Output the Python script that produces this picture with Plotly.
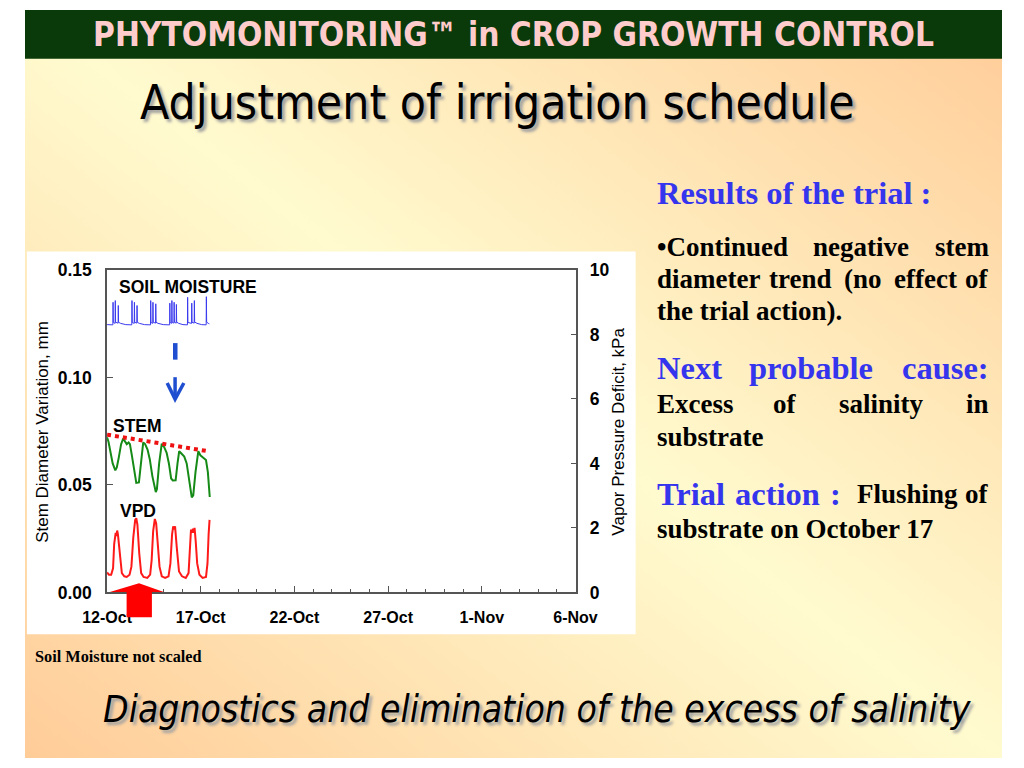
import base64
import pandas as pd
import plotly.graph_objects as go

W, H = 1024, 768

# ---------------- data ----------------
BASE_DATE = "2003-10-12"
X_START, X_END = "2003-10-12", "2003-11-06"

# soil moisture (not scaled, plotted on left axis), day offset from 12-Oct
sm_day = [0.00, 0.31, 0.32, 0.335, 0.43, 0.44, 0.455, 0.59, 0.60, 0.615, 0.72, 1.00,
          1.32, 1.33, 1.345, 1.45, 1.46, 1.475, 1.59, 1.60, 1.615, 1.72, 2.00,
          2.32, 2.33, 2.345, 2.44, 2.45, 2.465, 2.59, 2.60, 2.615, 2.72, 3.00,
          3.34, 3.35, 3.365, 3.45, 3.46, 3.475, 3.57, 3.58, 3.595, 3.69, 3.70, 3.715, 3.82, 4.05,
          4.29, 4.30, 4.315, 4.51, 4.52, 4.535, 4.65, 4.66, 4.675, 4.80, 5.05,
          5.29, 5.30, 5.315, 5.40, 5.46]
sm_val = [0.1246, 0.1245, 0.1350, 0.1256, 0.1252, 0.1358, 0.1257, 0.1253, 0.1335, 0.1257, 0.1252, 0.1246,
          0.1245, 0.1358, 0.1256, 0.1252, 0.1350, 0.1257, 0.1253, 0.1335, 0.1257, 0.1252, 0.1246,
          0.1245, 0.1358, 0.1256, 0.1252, 0.1350, 0.1257, 0.1253, 0.1343, 0.1257, 0.1252, 0.1246,
          0.1245, 0.1346, 0.1256, 0.1252, 0.1358, 0.1257, 0.1253, 0.1350, 0.1257, 0.1253, 0.1340, 0.1258, 0.1252, 0.1246,
          0.1245, 0.1373, 0.1256, 0.1252, 0.1346, 0.1257, 0.1253, 0.1358, 0.1258, 0.1252, 0.1246,
          0.1245, 0.1376, 0.1258, 0.1252, 0.1250]

# stem diameter variation, mm
stem_day = [0.00, 0.08, 0.20, 0.30, 0.44, 0.52, 0.62, 0.75, 0.86, 0.98, 1.05, 1.15, 1.22,
            1.32, 1.45, 1.56, 1.70, 1.80, 1.93, 2.03, 2.16, 2.28, 2.42, 2.60, 2.66, 2.78,
            2.92, 3.05, 3.18, 3.30, 3.42, 3.51, 3.66, 3.76, 3.85, 3.98, 4.12, 4.25, 4.38,
            4.52, 4.60, 4.72, 4.87, 4.98, 5.12, 5.28, 5.38, 5.48]
stem_val = [0.0722, 0.0700, 0.0645, 0.0600, 0.0568, 0.0582, 0.0625, 0.0690, 0.0716, 0.0700, 0.0690, 0.0698, 0.0690,
            0.0640, 0.0560, 0.0510, 0.0512, 0.0600, 0.0698, 0.0690, 0.0665, 0.0620, 0.0540, 0.0467, 0.0480, 0.0600,
            0.0692, 0.0676, 0.0650, 0.0600, 0.0530, 0.0521, 0.0522, 0.0600, 0.0657, 0.0645, 0.0632, 0.0600, 0.0520,
            0.0442, 0.0452, 0.0560, 0.0657, 0.0638, 0.0628, 0.0616, 0.0560, 0.0444]

# stem trend (dotted)
trend_day = [0.00, 5.46]
trend_val = [0.0734, 0.0656]

# vapour pressure deficit, kPa
vpd_day = [0.00, 0.10, 0.22, 0.32, 0.38, 0.42, 0.46, 0.50, 0.54, 0.58, 0.63, 0.71, 0.79, 0.92,
           1.05, 1.20, 1.30, 1.40, 1.50, 1.56, 1.62, 1.72, 1.82, 1.95, 2.15, 2.30, 2.38,
           2.46, 2.55, 2.62, 2.70, 2.80, 2.92, 3.10, 3.28, 3.38, 3.47, 3.53, 3.58, 3.63,
           3.72, 3.84, 4.00, 4.20, 4.35, 4.42, 4.48, 4.53, 4.58, 4.63, 4.67, 4.73, 4.81,
           4.93, 5.10, 5.28, 5.36, 5.42, 5.47]
vpd_val = [0.62, 0.55, 0.55, 0.75, 1.50, 1.80, 1.85, 1.75, 1.92, 1.80, 1.45, 0.90, 0.60, 0.50,
           0.48, 0.55, 0.80, 1.70, 2.25, 2.30, 2.10, 1.20, 0.60, 0.48, 0.45, 0.55, 1.00,
           1.90, 2.28, 2.15, 1.60, 0.80, 0.50, 0.45, 0.50, 0.90, 1.80, 2.05, 1.95, 2.05,
           1.40, 0.65, 0.50, 0.45, 0.60, 1.30, 1.95, 1.85, 1.98, 1.85, 2.00, 1.60, 0.90,
           0.55, 0.45, 0.48, 0.90, 1.80, 2.25]

y_left_ticks = [0.00, 0.05, 0.10, 0.15]
y_right_ticks = [0, 2, 4, 6, 8, 10]

header_text = "PHYTOMONITORING™ in CROP GROWTH CONTROL"
title_text = "Adjustment of irrigation schedule"
bottom_text = "Diagnostics and elimination of the excess of salinity"
note_text = "Soil Moisture not scaled"

# ---------------- helpers ----------------
def to_dates(days):
    b = pd.Timestamp(BASE_DATE)
    return [b + pd.Timedelta(days=d) for d in days]

def PX(x):
    return x / W

def PY(y):
    return 1 - y / H

SANS = "Liberation Sans, Arial, sans-serif"
COND = "DejaVu Sans Condensed, Liberation Sans, Arial, sans-serif"
SERIF = "Liberation Serif, Times New Roman, serif"
AXC = "#555555"

fig = go.Figure()

fig.add_trace(go.Scatter(x=to_dates(sm_day), y=sm_val, mode="lines",
                         line=dict(color="#3a3aee", width=1), yaxis="y", showlegend=False))
fig.add_trace(go.Scatter(x=to_dates(stem_day), y=stem_val, mode="lines",
                         line=dict(color="#168a16", width=2), yaxis="y", showlegend=False))
fig.add_trace(go.Scatter(x=to_dates(trend_day), y=trend_val, mode="lines",
                         line=dict(color="#ee1111", width=4, dash="dot"), yaxis="y", showlegend=False))
fig.add_trace(go.Scatter(x=to_dates(vpd_day), y=vpd_val, mode="lines",
                         line=dict(color="#ff1a1a", width=2), yaxis="y2", showlegend=False))

# background gradient image
svg = ('<svg xmlns="http://www.w3.org/2000/svg" width="1024" height="768" viewBox="0 0 1024 768" '
       'preserveAspectRatio="none"><defs><linearGradient id="g" x1="0" y1="1" x2="1" y2="0">'
       '<stop offset="0" stop-color="#ffcc98"/><stop offset="0.5" stop-color="#fffbcf"/>'
       '<stop offset="1" stop-color="#ffcc98"/></linearGradient></defs>'
       '<rect width="1024" height="768" fill="url(#g)"/></svg>')
src = "data:image/svg+xml;base64," + base64.b64encode(svg.encode()).decode()

shapes = [
    dict(type="rect", xref="paper", yref="paper", x0=0, x1=1, y0=PY(50), y1=1,
         fillcolor="#0a3a0a", line=dict(width=0), layer="below"),
    dict(type="rect", xref="paper", yref="paper", x0=PX(2), x1=PX(640), y0=PY(641), y1=PY(248),
         fillcolor="white", line=dict(width=0), layer="below"),
    # blue dashed arrow
    dict(type="line", xref="paper", yref="paper", x0=PX(157.5), x1=PX(157.5), y0=PY(342), y1=PY(359),
         line=dict(color="#1f4fd0", width=4.5)),
    dict(type="line", xref="paper", yref="paper", x0=PX(157.3), x1=PX(157.3), y0=PY(377), y1=PY(399),
         line=dict(color="#1f4fd0", width=3.5)),
    dict(type="path", xref="paper", yref="paper",
         path=f"M{PX(149)},{PY(383)} L{PX(157.3)},{PY(399.5)} L{PX(166.5)},{PY(383)}",
         line=dict(color="#1f4fd0", width=3.5)),
    # red block arrow
    dict(type="path", xref="paper", yref="paper", layer="above",
         path=(f"M{PX(119.5)},{PY(588.5)} L{PX(145.5)},{PY(597.5)} L{PX(133)},{PY(597.5)} "
               f"L{PX(133)},{PY(623.5)} L{PX(106.5)},{PY(623.5)} L{PX(106.5)},{PY(597.5)} "
               f"L{PX(89)},{PY(597.5)} Z"),
         fillcolor="#ff0000", line=dict(width=0)),
]

ann = []

def text(t, x, y, size, color="black", family=SANS, weight="normal", style="normal",
         xanchor="center", shadow=None, angle=0):
    f = dict(family=family, size=size, color=color, weight=weight, style=style)
    if shadow:
        f["shadow"] = shadow
    ann.append(dict(text=t, x=PX(x), y=PY(y), xref="paper", yref="paper", showarrow=False,
                    xanchor=xanchor, yanchor="middle", font=f, textangle=angle))

text(header_text, 512, 25, 33.2, color="#ffcccc", family=COND, weight="bold")
text(title_text, 495, 95, 47.7, family=COND, shadow="3px 3px 3px #a0a0a0")
text(bottom_text, 537, 718, 37, family=COND, style="italic", shadow="3px 3px 3px #a0a0a0")
text(note_text, 8, 664, 16.3, family=SERIF, weight="bold", xanchor="left")

# chart labels
text("SOIL MOISTURE", 96.5, 284, 17.5, weight="bold", xanchor="left")
text("STEM", 90.5, 427, 17.5, weight="bold", xanchor="left")
text("VPD", 97, 514, 17.5, weight="bold", xanchor="left")
text("Stem Diameter Variation, mm", 19, 433, 17, angle=-90)
text("Vapor Pressure Deficit, kPa", 622.5, 433, 17, angle=-90)

# right text block (justified lines built word by word)
BLUE = "#3535ee"
BS, KS = 32.5, 27
def serif(t, x, y, size, color="black", xanchor="left"):
    text(t, x, y - 1, size, color=color, family=SERIF, weight="bold", xanchor=xanchor)

serif("Results of the trial :", 660, 189, BS, BLUE)
serif("•Continued", 660, 244, KS)
serif("negative", 876.7, 244, KS, xanchor="center")
serif("stem", 1012, 244, KS, xanchor="right")
serif("diameter", 660, 277, KS)
serif("trend", 813, 277, KS, xanchor="center")
serif("(no", 878, 277, KS, xanchor="center")
serif("effect", 943.5, 277, KS, xanchor="center")
serif("of", 1012, 277, KS, xanchor="right")
serif("the trial action).", 660, 310.5, KS)
serif("Next", 660, 369, BS, BLUE)
serif("probable", 824, 369, BS, BLUE, xanchor="center")
serif("cause:", 1012, 369, BS, BLUE, xanchor="right")
serif("Excess", 660, 406, KS)
serif("of", 797, 406, KS, xanchor="center")
serif("salinity", 898, 406, KS, xanchor="center")
serif("in", 1012, 406, KS, xanchor="right")
serif("substrate", 660, 439.5, KS)
serif("Trial", 660, 497.5, BS, BLUE)
serif("action", 788.5, 497.5, BS, BLUE, xanchor="center")
serif(":", 850, 497.5, BS, BLUE, xanchor="center")
serif("Flushing", 925, 497.5, KS, xanchor="center")
serif("of", 1012, 497.5, KS, xanchor="right")
serif("substrate on October 17", 660, 534, KS)

tickfont_x = dict(family=SANS, size=16, color="black", weight="bold")
tickfont_y = dict(family=SANS, size=17.5, color="black", weight="bold")

fig.update_layout(
    width=W, height=H,
    margin=dict(l=0, r=0, t=0, b=0),
    paper_bgcolor="white", plot_bgcolor="rgba(0,0,0,0)",
    images=[dict(source=src, xref="paper", yref="paper", x=0, y=1, sizex=1, sizey=1,
                 xanchor="left", yanchor="top", sizing="stretch", layer="below")],
    shapes=shapes, annotations=ann,
    xaxis=dict(type="date", range=[X_START, X_END], domain=[PX(86), PX(577)],
               tick0=X_START, dtick=5 * 86400000, tickformat="%-d-%b",
               ticks="inside", ticklen=7, tickwidth=1, tickcolor=AXC,
               minor=dict(dtick=86400000, ticks="inside", ticklen=4, tickcolor=AXC, showgrid=False),
               showline=True, linecolor=AXC, linewidth=1.5, mirror=True,
               showgrid=False, zeroline=False, tickfont=tickfont_x, ticklabelstandoff=10),
    yaxis=dict(range=[0, 0.15], domain=[PY(598), PY(267)], tickvals=y_left_ticks,
               tickformat=".2f", ticks="inside", ticklen=6, tickcolor=AXC,
               showline=True, linecolor=AXC, linewidth=1.5, showgrid=False, zeroline=False,
               tickfont=tickfont_y, ticklabelstandoff=10, anchor="x"),
    yaxis2=dict(range=[0, 10], overlaying="y", side="right", tickvals=y_right_ticks,
                ticks="inside", ticklen=5, tickcolor=AXC,
                showline=True, linecolor=AXC, linewidth=1.5, showgrid=False, zeroline=False,
                tickfont=tickfont_y, ticklabelstandoff=9, anchor="x"),
)

fig.write_html("out.html", config={"displayModeBar": False},
               post_script="document.body.style.margin='0';document.body.style.overflow='hidden';")
